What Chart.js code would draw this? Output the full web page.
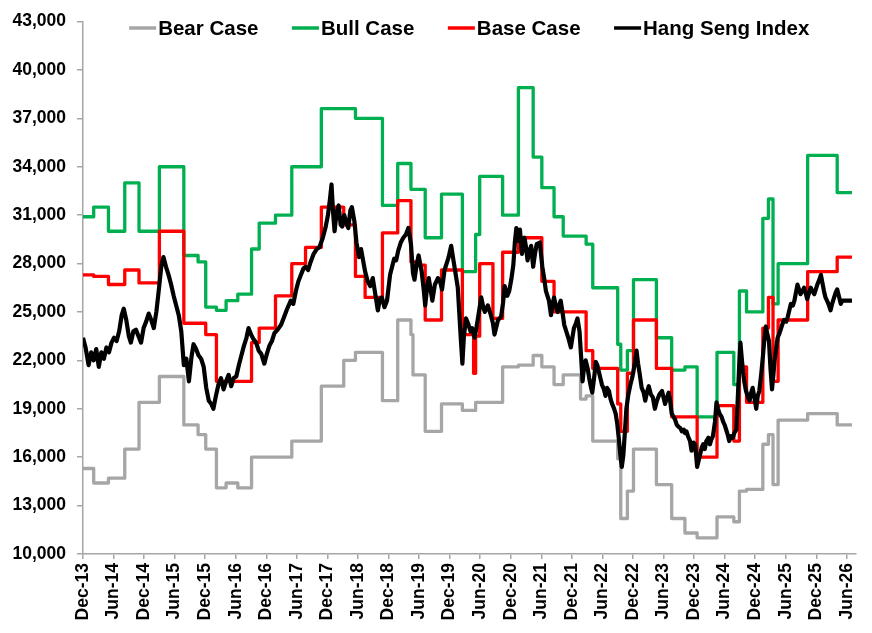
<!DOCTYPE html>
<html>
<head>
<meta charset="utf-8">
<title>Hang Seng Index scenarios</title>
<script src="https://cdn.jsdelivr.net/npm/chart.js@4.4.1/dist/chart.umd.min.js"></script>
<style>
  html, body { margin: 0; padding: 0; background: #ffffff; }
</style>
</head>
<body>
<canvas id="hsiChart" width="872" height="633"></canvas>
<script>
// x values are months counted from Dec-13
const tickLabels = ['Dec-13', 'Jun-14', 'Dec-14', 'Jun-15', 'Dec-15', 'Jun-16', 'Dec-16', 'Jun-17',
  'Dec-17', 'Jun-18', 'Dec-18', 'Jun-19', 'Dec-19', 'Jun-20', 'Dec-20', 'Jun-21', 'Dec-21',
  'Jun-22', 'Dec-22', 'Jun-23', 'Dec-23', 'Jun-24', 'Dec-24', 'Jun-25', 'Dec-25', 'Jun-26'];

// month where each forecast starts (step lines)
const caseMonths = [0, 2.1, 5, 8.2, 11, 15, 19.8, 22.6, 24.1, 26.2,
  28.1, 30.4, 33.1, 34.6, 37.8, 41, 43.7, 46.8, 51.2, 53.5,
  55.4, 58.8, 61.8, 64.4, 64.8, 65.8, 67.2, 70.4, 74.5, 76.7,
  77.1, 77.9, 80.5, 82.4, 85.5, 88.4, 90.1, 92.5, 94.3, 97.7,
  98.8, 100.1, 105, 105.6, 106.9, 108.1, 112.6, 115.6, 118.2, 120.6,
  124.5, 127.8, 128.9, 130.3, 133.5, 134.6, 135.5, 136.5, 142.3, 148.1,
  151];

const bearCase = [15300, 14400, 14700, 16500, 19400, 21000, 18000, 17400, 16500, 14100,
  14400, 14100, 16000, 16000, 16000, 17000, 17000, 20400, 22000, 22500,
  22500, 19500, 24500, 23600, 21100, 21100, 17600, 19300, 18900, 18900,
  19400, 19400, 19400, 21600, 21700, 22300, 21600, 20500, 21100, 19600,
  19800, 17000, 15900, 12200, 13900, 16500, 14300, 12200, 11300, 11000,
  12300, 12000, 13900, 14000, 16800, 17400, 14300, 18300, 18700, 18000,
  18000];

const bullCase = [30900, 31500, 30000, 33000, 30000, 34000, 28500, 28100, 25300, 25100,
  25700, 26100, 28900, 30500, 31000, 34000, 34000, 37600, 37600, 37000,
  37000, 31600, 34200, 32600, 32600, 32600, 29600, 32300, 27500, 27500,
  29800, 33400, 33400, 31000, 38900, 34600, 32700, 30900, 29700, 29700,
  29200, 26500, 23000, 21400, 22600, 27000, 23400, 21400, 21600, 18500,
  22500, 20500, 26300, 25000, 30800, 32000, 25500, 28000, 34700, 32400,
  32400];

const baseCase = [27300, 27200, 26700, 27600, 26800, 30000, 24300, 24300, 23600, 20700,
  20700, 20700, 23100, 24000, 26000, 28000, 29000, 31500, 30400, 27200,
  25900, 29900, 31900, 28100, 28100, 27900, 24500, 27600, 23600, 21200,
  23500, 28000, 24600, 28700, 29600, 29600, 26900, 25000, 25000, 25000,
  22600, 21500, 19300, 17600, 21200, 24500, 21500, 18500, 18500, 16000,
  19200, 17000, 21600, 19400, 24000, 25900, 20700, 24500, 27500, 28400,
  28400];

// Hang Seng Index
const hsiMonths = [0, 0.5, 1.1, 1.6, 2.1, 2.6, 3.1, 3.6, 4.1, 4.6,
  5.1, 5.6, 6.1, 6.6, 7.1, 7.6, 8.0, 8.5, 9.0, 9.4,
  9.9, 10.4, 10.9, 11.4, 11.9, 12.4, 12.9, 13.4, 13.9, 14.4,
  14.9, 15.4, 15.8, 16.3, 16.8, 17.3, 17.8, 18.3, 18.8, 19.3,
  19.8, 20.3, 20.8, 21.3, 21.7, 22.2, 22.7, 23.2, 23.7, 24.2,
  24.7, 25.2, 25.6, 26.1, 26.6, 27.1, 27.6, 28.1, 28.6, 29.1,
  29.6, 30.1, 30.6, 31.1, 31.6, 32.1, 32.5, 33.0, 33.5, 34.0,
  34.5, 35.0, 35.6, 36.1, 36.6, 37.1, 37.6, 38.2, 38.9, 39.5,
  40.1, 40.8, 41.3, 41.8, 42.3, 42.8, 43.3, 43.7, 44.2, 44.7,
  45.3, 45.9, 46.4, 47.0, 47.6, 48.1, 48.5, 48.8, 49.1, 49.4,
  49.8, 50.2, 50.6, 50.9, 51.3, 51.7, 52.1, 52.5, 52.8, 53.3,
  53.7, 54.2, 54.6, 55.0, 55.4, 55.9, 56.4, 56.9, 57.3, 57.9,
  58.3, 58.7, 59.2, 59.7, 60.3, 60.7, 61.1, 61.5, 61.9, 62.4,
  62.9, 63.4, 63.9, 64.4, 64.8, 65.1, 65.5, 65.9, 66.5, 66.9,
  67.2, 67.6, 67.9, 68.3, 68.6, 69.1, 69.7, 70.1, 70.5, 71.0,
  71.4, 71.8, 72.3, 72.7, 73.1, 73.6, 74.1, 74.5, 74.8, 75.2,
  75.6, 76.1, 76.4, 76.9, 77.3, 77.6, 78.2, 78.6, 78.9, 79.5,
  80.1, 80.5, 80.8, 81.5, 82.1, 82.5, 82.8, 83.3, 83.7, 84.1,
  84.5, 84.8, 85.1, 85.5, 85.8, 86.2, 86.7, 87.0, 87.3, 87.7,
  88.0, 88.4, 88.8, 89.1, 89.7, 90.2, 90.6, 90.9, 91.2, 91.5,
  91.9, 92.2, 92.5, 92.9, 93.2, 93.5, 93.8, 94.2, 94.5, 94.9,
  95.3, 95.8, 96.1, 96.4, 96.8, 97.1, 97.5, 97.8, 98.1, 98.4,
  98.7, 99.1, 99.4, 99.7, 100.0, 100.4, 100.7, 101.0, 101.3, 101.6,
  101.9, 102.3, 102.6, 102.9, 103.3, 103.6, 103.9, 104.3, 104.6, 104.9,
  105.2, 105.5, 105.8, 106.1, 106.4, 106.7, 107.1, 107.5, 107.9, 108.3,
  108.7, 109.0, 109.3, 109.7, 110.1, 110.4, 110.8, 111.1, 111.5, 111.9,
  112.3, 112.7, 113.2, 113.7, 114.3, 114.7, 115.0, 115.3, 115.6, 116.0,
  116.3, 116.6, 116.9, 117.3, 117.6, 118.0, 118.2, 118.5, 118.8, 119.2,
  119.5, 119.9, 120.2, 120.6, 120.9, 121.2, 121.5, 121.8, 122.1, 122.4,
  122.8, 123.1, 123.4, 123.7, 124.1, 124.4, 124.7, 125.0, 125.4, 125.7,
  126.0, 126.3, 126.6, 126.9, 127.3, 127.6, 127.9, 128.3, 128.6, 128.9,
  129.1, 129.4, 129.6, 129.9, 130.2, 130.6, 130.9, 131.2, 131.5, 131.9,
  132.2, 132.5, 132.8, 133.2, 133.5, 133.8, 134.1, 134.4, 134.7, 135.0,
  135.3, 135.6, 135.8, 136.1, 136.4, 136.8, 137.1, 137.4, 137.7, 138.1,
  138.4, 138.7, 139.0, 139.4, 139.7, 140.0, 140.3, 140.6, 140.9, 141.3,
  141.6, 141.9, 142.2, 142.6, 142.9, 143.2, 143.6, 143.9, 144.2, 144.6,
  144.9, 145.2, 145.5, 145.8, 146.1, 146.5, 146.8, 147.1, 147.5, 147.8,
  148.1, 148.5, 148.8, 149.1, 151.0];

const hsiValues = [23400, 22800, 21700, 22500, 22000, 22700, 21600, 22500, 22100, 22800,
  22500, 23100, 23400, 23200, 23800, 24800, 25200, 24500, 23500, 23100,
  23800, 23900, 23500, 23100, 24000, 24400, 24900, 24500, 24000, 25000,
  26400, 27900, 28400, 27800, 27300, 26700, 26000, 25400, 24800, 23800,
  21700, 22100, 20700, 22200, 23000, 22700, 22300, 22100, 21600, 20300,
  19500, 19300, 19000, 19800, 20500, 20900, 20200, 20700, 21100, 20400,
  20900, 21000, 21700, 22300, 22900, 23400, 24000, 23600, 23300, 23100,
  22600, 22400, 21800, 22400, 22900, 23200, 23700, 23900, 24200, 24700,
  25200, 25700, 25500, 26300, 26900, 27300, 27700, 27800, 27600, 28100,
  28600, 28900, 29000, 29500, 30200, 31000, 32000, 32900, 31200, 30000,
  31200, 31600, 30400, 30300, 31000, 30500, 30200, 31300, 31500, 30600,
  29300, 28400, 28900, 28200, 27500, 26900, 26600, 27100, 26300, 25100,
  25800, 25900, 25300, 25700, 27300, 27800, 28300, 28200, 28800, 29300,
  29600, 29800, 30200, 29200, 27400, 27000, 27900, 28500, 27500, 26400,
  25400, 26600, 27100, 26300, 25700, 26700, 27100, 26900, 26400, 27600,
  28000, 28400, 29100, 28300, 27500, 26500, 23800, 21800, 23500, 24600,
  24300, 23800, 24000, 23400, 24100, 24700, 25900, 25300, 25000, 25400,
  24800, 24300, 23600, 24500, 24700, 25600, 26600, 26000, 26300, 27000,
  27900, 29300, 30200, 29400, 30100, 28600, 29600, 29000, 28200, 28800,
  29100, 27800, 28700, 29200, 29300, 27800, 27000, 26300, 26000, 25700,
  24800, 25500, 25900, 25300, 25000, 25400, 25700, 24900, 24200, 23800,
  23400, 22800, 23400, 24000, 24300, 24600, 23800, 22300, 20700, 21600,
  22000, 21500, 20900, 20400, 20000, 21000, 21900, 21700, 21300, 20900,
  20500, 20200, 19800, 20300, 20100, 19600, 19300, 19000, 18700, 18100,
  17200, 16200, 15400, 16100, 17500, 19000, 19900, 20500, 21000, 21700,
  22600, 21800, 21200, 20300, 20000, 19500, 20100, 20400, 19900, 19700,
  19000, 19500, 19900, 20100, 19300, 19700, 20000, 19500, 18700, 18500,
  18300, 18000, 17900, 17800, 17600, 17700, 17500, 17600, 17300, 17000,
  16400, 16900, 16800, 15400, 15800, 16200, 16600, 16800, 16500, 17000,
  17200, 16800, 17100, 17300, 18200, 19400, 19000, 18700, 18500, 18200,
  18000, 17700, 17400, 17000, 17300, 17200, 17500, 17700, 19800, 22000,
  23100, 22000, 21300, 20600, 20100, 19700, 19500, 20000, 20300, 19600,
  19000, 19800, 20100, 21200, 22200, 23300, 24100, 23600, 23200, 21500,
  20200, 21200, 22000, 22700, 23400, 23700, 24000, 24300, 24500, 24400,
  24700, 25100, 25500, 25400, 25700, 26200, 26700, 26400, 26100, 26300,
  26500, 26200, 25800, 26200, 26500, 26300, 26100, 26400, 26700, 27000,
  27300, 26800, 26300, 25900, 25700, 25400, 25100, 25500, 25900, 26200,
  26400, 25900, 25500, 25700, 25700];

const axisColor = '#a6a6a6';
const fontFamily = 'Arial, "Liberation Sans", Helvetica, sans-serif';

function toPoints(xs, ys) {
  return xs.map((x, i) => ({ x: x, y: ys[i] }));
}

// legend drawn over the top of the plot, like the original
const overlayLegend = {
  id: 'overlayLegend',
  afterDraw(chart) {
    const ctx = chart.ctx;
    const area = chart.chartArea;
    const lineLen = 27, textGap = 2, itemGap = 33.5;
    ctx.save();
    ctx.font = 'bold 20.5px ' + fontFamily;
    ctx.textBaseline = 'middle';
    const items = chart.data.datasets.map(ds => ({
      label: ds.label,
      color: ds.borderColor,
      width: lineLen + textGap + ctx.measureText(ds.label).width
    }));
    const total = items.reduce((s, it) => s + it.width, 0) + itemGap * (items.length - 1);
    let x = (area.left + area.right) / 2 - total / 2;
    const y = 28;
    items.forEach(it => {
      ctx.strokeStyle = it.color;
      ctx.lineWidth = 3.5;
      ctx.beginPath();
      ctx.moveTo(x, y);
      ctx.lineTo(x + lineLen, y);
      ctx.stroke();
      ctx.fillStyle = '#000000';
      ctx.fillText(it.label, x + lineLen + textGap, y + 1);
      x += it.width + itemGap;
    });
    ctx.restore();
  }
};

const ctx = document.getElementById('hsiChart').getContext('2d');

new Chart(ctx, {
  type: 'line',
  data: {
    datasets: [
      {
        label: 'Bear Case',
        data: toPoints(caseMonths, bearCase),
        borderColor: '#a6a6a6',
        borderWidth: 3.3,
        stepped: true,
        order: 3
      },
      {
        label: 'Bull Case',
        data: toPoints(caseMonths, bullCase),
        borderColor: '#00b050',
        borderWidth: 3.3,
        stepped: true,
        order: 2
      },
      {
        label: 'Base Case',
        data: toPoints(caseMonths, baseCase),
        borderColor: '#ff0000',
        borderWidth: 3.3,
        stepped: true,
        order: 1
      },
      {
        label: 'Hang Seng Index',
        data: toPoints(hsiMonths, hsiValues),
        borderColor: '#000000',
        borderWidth: 4.2,
        order: 0
      }
    ]
  },
  options: {
    responsive: false,
    animation: false,
    layout: { padding: { top: 19, right: 12, left: 0, bottom: 0 } },
    elements: {
      point: { radius: 0, hoverRadius: 0 },
      line: { tension: 0, fill: false, borderJoinStyle: 'round', borderCapStyle: 'butt' }
    },
    plugins: {
      legend: { display: false },
      tooltip: { enabled: false }
    },
    scales: {
      x: {
        type: 'linear',
        min: 0,
        max: 151.7,
        afterBuildTicks: (axis) => {
          axis.ticks = tickLabels.map((_, i) => ({ value: i * 6 }));
        },
        afterFit: (axis) => { axis.height = 79; },
        ticks: {
          autoSkip: false,
          minRotation: 90,
          maxRotation: 90,
          padding: 4,
          color: '#000000',
          font: { family: fontFamily, size: 17.5, weight: 'bold' },
          callback: (value) => tickLabels[Math.round(value / 6)]
        },
        grid: { drawOnChartArea: false, drawTicks: true, tickLength: 5, color: axisColor, lineWidth: 1.5 },
        border: { color: axisColor, width: 1.5 }
      },
      y: {
        min: 10000,
        max: 43000,
        afterFit: (axis) => { axis.width = 83; },
        ticks: {
          stepSize: 3000,
          padding: 11,
          color: '#000000',
          font: { family: fontFamily, size: 17.5, weight: 'bold' },
          callback: (value) => value.toLocaleString('en-US')
        },
        grid: { drawOnChartArea: false, drawTicks: true, tickLength: 6, color: axisColor, lineWidth: 1.5 },
        border: { color: axisColor, width: 1.5 }
      }
    }
  },
  plugins: [overlayLegend]
});
</script>
</body>
</html>
